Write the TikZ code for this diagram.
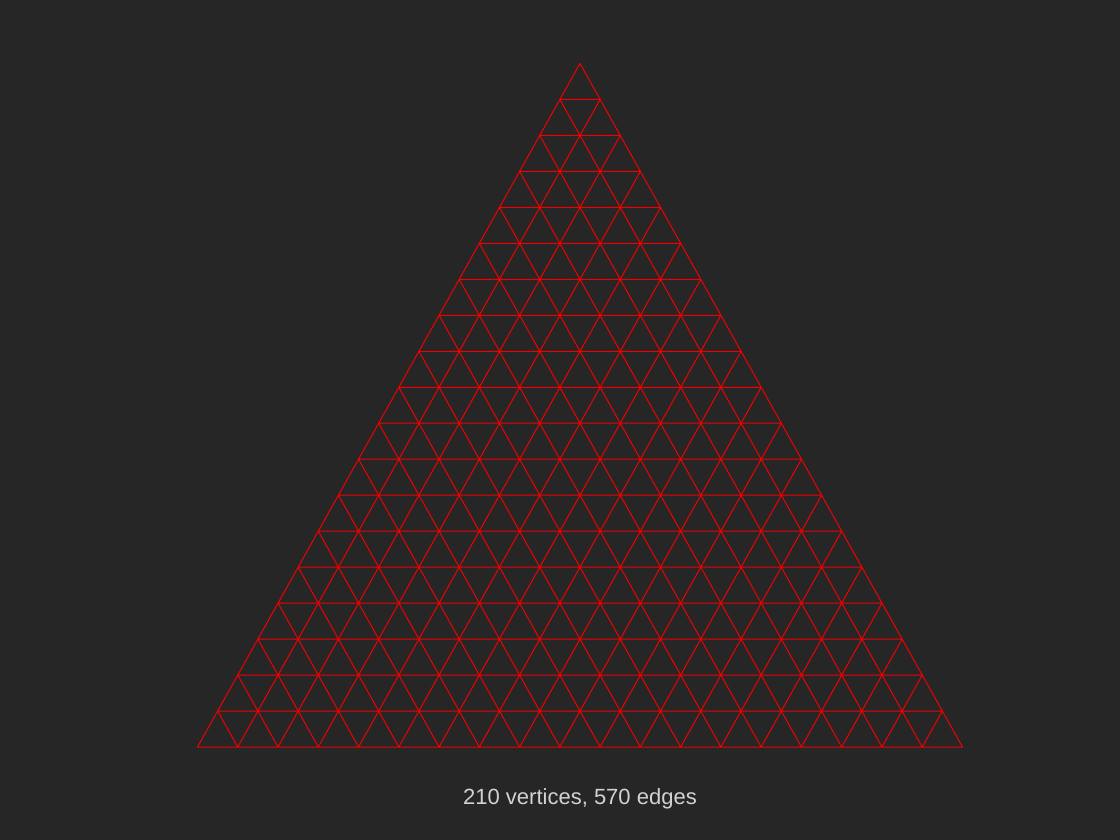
\documentclass[tikz,border=0pt]{standalone}
\usepackage{fontspec}
\setmainfont{Liberation Sans}
\definecolor{bg}{HTML}{262626}
\definecolor{edgered}{HTML}{F00000}
\definecolor{labelgrey}{HTML}{D2D2D2}
\tikzset{
  meshedge/.style={draw=edgered, line width=1pt, line join=round},
  caption/.style={text=labelgrey, font=\fontsize{22}{26}\selectfont, anchor=base, inner sep=0pt}
}
\begin{document}
\begin{tikzpicture}[x=1pt,y=-1pt]
\fill[bg] (0,0) rectangle (1120,840);
\useasboundingbox (0,0) rectangle (1120,840);
\foreach \i in {0,...,19}{
  \foreach \j in {0,...,\i}{
    \coordinate (v-\i-\j) at ({580+(\j-\i/2)*40.263},{63.5+\i*35.974});
  }
}
\foreach \i in {0,...,18}{
  \pgfmathtruncatemacro\k{\i+1}
  \foreach \j in {0,...,\i}{
    \pgfmathtruncatemacro\jj{\j+1}
    \draw[meshedge] (v-\i-\j) -- (v-\k-\j) -- (v-\k-\jj) -- cycle;
  }
}
\node[caption] (cap) at (580,804) {210 vertices, 570 edges};
\end{tikzpicture}
\end{document}
